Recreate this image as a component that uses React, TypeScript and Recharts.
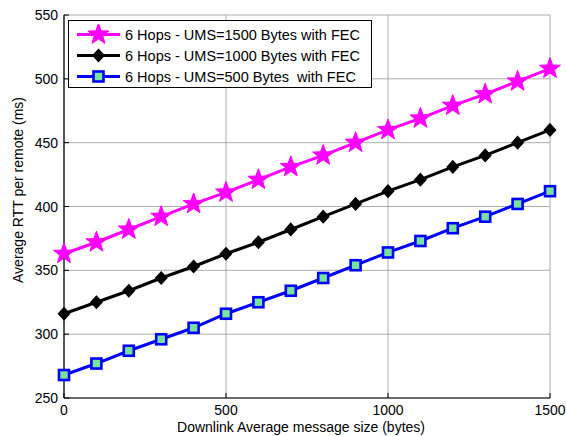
import { LineChart, Line, XAxis, YAxis, CartesianGrid, Legend, Label } from 'recharts'

const msgSize = [0, 100, 200, 300, 400, 500, 600, 700, 800, 900, 1000, 1100, 1200, 1300, 1400, 1500]
const ums1500 = [363, 372, 382, 392, 402, 411, 421, 431, 440, 450, 460, 469, 479, 488, 498, 508]
const ums1000 = [316, 325, 334, 344, 353, 363, 372, 382, 392, 402, 412, 421, 431, 440, 450, 460]
const ums500 = [268, 277, 287, 296, 305, 316, 325, 334, 344, 354, 364, 373, 383, 392, 402, 412]

const xTicks = [0, 500, 1000, 1500]
const yTicks = [250, 300, 350, 400, 450, 500, 550]

const seriesNames = [
  '6 Hops - UMS=1500 Bytes with FEC',
  '6 Hops - UMS=1000 Bytes with FEC',
  '6 Hops - UMS=500 Bytes  with FEC',
]

const data = msgSize.map((x, i) => ({
  x,
  s1500: ums1500[i],
  s1000: ums1000[i],
  s500: ums500[i],
}))

const FONT = '"Liberation Sans", Arial, sans-serif'
const GREEN = '#76e49c'

function starPath(cx: number, cy: number, R: number, r: number) {
  let d = ''
  for (let i = 0; i < 10; i++) {
    const rad = i % 2 === 0 ? R : r
    const a = -Math.PI / 2 + (i * Math.PI) / 5
    d += (i === 0 ? 'M' : 'L') + (cx + rad * Math.cos(a)).toFixed(2) + ',' + (cy + rad * Math.sin(a)).toFixed(2)
  }
  return d + 'Z'
}

function Marker({ kind, cx, cy }: { kind: string; cx: number; cy: number }) {
  if (kind === 'star') return <path d={starPath(cx, cy, 11, 4.5)} fill="#ff00ff" stroke="#ff00ff" strokeWidth={1} />
  if (kind === 'diamond')
    return <path d={`M${cx},${cy - 6}L${cx + 5.5},${cy}L${cx},${cy + 6}L${cx - 5.5},${cy}Z`} fill="#000" stroke="#000" strokeWidth={1.5} />
  return <rect x={cx - 5} y={cy - 5} width={10} height={10} fill={GREEN} stroke="#0000ff" strokeWidth={2.6} />
}

const dotFor = (kind: string) => (p: any) => {
  if (p.cx == null || p.cy == null) return <g key={p.key} />
  return <g key={p.key}><Marker kind={kind} cx={p.cx} cy={p.cy} /></g>
}

function BottomTick({ x, y, payload }: any) {
  return (
    <g>
      <line x1={x} y1={y} x2={x} y2={y - 5} stroke="#000" />
      <text x={x} y={y + 17} textAnchor="middle" fontSize={14} fontFamily={FONT} fill="#000">{payload.value}</text>
    </g>
  )
}
function TopTick({ x, y }: any) {
  return <line x1={x} y1={y} x2={x} y2={y + 5} stroke="#000" />
}
function LeftTick({ x, y, payload }: any) {
  return (
    <g>
      <line x1={x} y1={y} x2={x + 5} y2={y} stroke="#000" />
      <text x={x - 6} y={y + 5} textAnchor="end" fontSize={14} fontFamily={FONT} fill="#000">{payload.value}</text>
    </g>
  )
}
function RightTick({ x, y }: any) {
  return <line x1={x} y1={y} x2={x - 5} y2={y} stroke="#000" />
}

const legendKinds = [
  { kind: 'star', color: '#ff00ff' },
  { kind: 'diamond', color: '#000000' },
  { kind: 'square', color: '#0000ff' },
]

function LegendBox() {
  return (
    <div style={{ border: '1px solid #000', background: '#fff', width: 304, height: 68, boxSizing: 'border-box', padding: '3px 0 0 0' }}>
      {seriesNames.map((name, i) => (
        <div key={name} style={{ display: 'flex', alignItems: 'center', height: 21 }}>
          <svg width={56} height={21} style={{ flex: 'none' }}>
            <line x1={8} y1={10.5} x2={51} y2={10.5} stroke={legendKinds[i].color} strokeWidth={3} />
            <Marker kind={legendKinds[i].kind} cx={29.5} cy={10.5} />
          </svg>
          <span style={{ fontFamily: FONT, fontSize: 14.5, color: '#000', whiteSpace: 'pre' }}>{name}</span>
        </div>
      ))}
    </div>
  )
}

export default function App() {
  return (
    <div style={{ position: 'absolute', left: 0, top: 0, width: 566, height: 436, background: '#fff' }}>
      <LineChart width={566} height={436} data={data} margin={{ top: 15, right: 16, left: 8, bottom: 0 }}>
        <CartesianGrid stroke="#999999" strokeWidth={0.8} />
        <XAxis
          dataKey="x"
          type="number"
          domain={[0, 1500]}
          ticks={xTicks}
          height={38}
          tickLine={false}
          tickSize={0}
          tickMargin={0}
          axisLine={{ stroke: '#000', strokeWidth: 1.2 }}
          tick={<BottomTick />}
          interval={0}
        >
          <Label
            content={() => (
              <text x={301} y={432} textAnchor="middle" fontSize={14} fontFamily={FONT} fill="#000">
                Downlink Average message size (bytes)
              </text>
            )}
          />
        </XAxis>
        <XAxis
          xAxisId="top"
          orientation="top"
          dataKey="x"
          type="number"
          domain={[0, 1500]}
          ticks={xTicks}
          height={0}
          tickLine={false}
          tickSize={0}
          tickMargin={0}
          axisLine={{ stroke: '#000', strokeWidth: 1.2 }}
          tick={<TopTick />}
          interval={0}
        />
        <YAxis
          type="number"
          domain={[250, 550]}
          ticks={yTicks}
          width={56}
          tickLine={false}
          tickSize={0}
          tickMargin={0}
          axisLine={{ stroke: '#000', strokeWidth: 1.2 }}
          tick={<LeftTick />}
          interval={0}
        >
          <Label
            content={() => (
              <text transform="translate(23,190) rotate(-90)" textAnchor="middle" fontSize={14} fontFamily={FONT} fill="#000">
                Average RTT per remote (ms)
              </text>
            )}
          />
        </YAxis>
        <YAxis
          yAxisId="right"
          orientation="right"
          type="number"
          domain={[250, 550]}
          ticks={yTicks}
          width={0}
          tickLine={false}
          tickSize={0}
          tickMargin={0}
          axisLine={{ stroke: '#000', strokeWidth: 1.2 }}
          tick={<RightTick />}
          interval={0}
        />
        <Legend
          layout="vertical"
          align="center"
          verticalAlign="middle"
          content={() => <LegendBox />}
          wrapperStyle={{ left: 68, top: 20, width: 304, height: 68 }}
        />
        <Line dataKey="s1500" name={seriesNames[0]} stroke="#ff00ff" strokeWidth={3} dot={dotFor('star')} isAnimationActive={false} />
        <Line dataKey="s1000" name={seriesNames[1]} stroke="#000000" strokeWidth={3} dot={dotFor('diamond')} isAnimationActive={false} />
        <Line dataKey="s500" name={seriesNames[2]} stroke="#0000ff" strokeWidth={3} dot={dotFor('square')} isAnimationActive={false} />
      </LineChart>
    </div>
  )
}
